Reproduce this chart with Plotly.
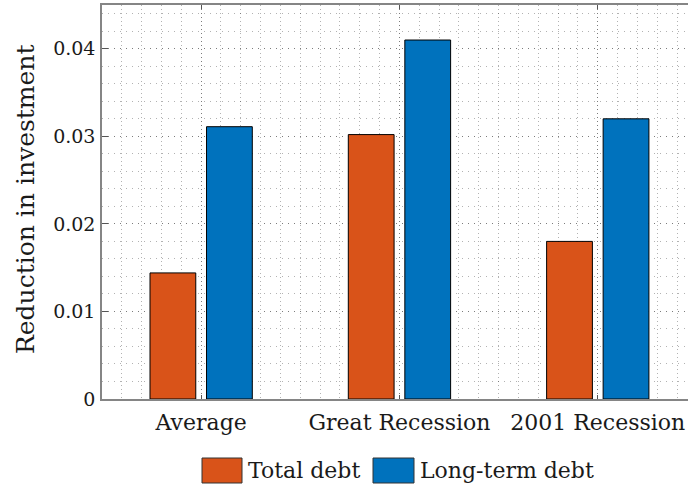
import plotly.graph_objects as go

# ---- data ----
categories = ["Average", "Great Recession", "2001 Recession"]
cat_pos = [1, 2, 3]
total_debt = [0.0144, 0.0302, 0.0180]
long_term_debt = [0.0311, 0.0410, 0.0320]
series_names = ["Total debt", "Long-term debt"]
series_colors = ["#D95319", "#0072BD"]
y_tickvals = [0, 0.01, 0.02, 0.03, 0.04]
y_ticktext = ["0", "0.01", "0.02", "0.03", "0.04"]

W, H = 688, 487
L, R, T, B = 102, 0, 5, 88
FONT = "'DejaVu Serif', serif"
FS = 22
TXT = "#1a1a1a"
GRID = "rgba(0,0,0,0.30)"
AXC = "#858585"

def px2x(px):
    return (px - L) / (W - L - R)

def py2y(py):
    return (H - B - py) / (H - T - B)

fig = go.Figure()
for name, vals, col in zip(series_names, [total_debt, long_term_debt], series_colors):
    fig.add_trace(go.Bar(
        x=cat_pos, y=vals, name=name, showlegend=False,
        marker=dict(color=col, line=dict(color="#000000", width=1)),
    ))

fig.update_layout(
    width=W, height=H,
    margin=dict(l=L, r=R, t=T, b=B),
    paper_bgcolor="white", plot_bgcolor="white",
    barmode="group", bargap=0.43, bargroupgap=0.19,
    font=dict(family=FONT, size=FS, color=TXT),
)

fig.update_xaxes(
    type="linear", range=[0.5, 3.455],
    tickmode="array", tickvals=cat_pos, ticktext=categories,
    showline=True, linecolor=AXC, linewidth=1.5, mirror="ticks",
    ticks="inside", ticklen=4, tickcolor="#555555", tickwidth=1,
    showgrid=True, gridcolor=GRID, griddash="1px,3px", gridwidth=1,
    minor=dict(tick0=0.5, dtick=0.1, showgrid=True, gridcolor=GRID,
               griddash="1px,3px", gridwidth=1, ticks=""),
    zeroline=False, ticklabelstandoff=3,
    tickfont=dict(family=FONT, size=FS, color=TXT),
)
fig.update_yaxes(
    range=[0, 0.045],
    tickmode="array", tickvals=y_tickvals, ticktext=y_ticktext,
    showline=True, linecolor=AXC, linewidth=1.5, mirror=False,
    ticks="inside", ticklen=6, tickcolor="#555555", tickwidth=1,
    showgrid=True, gridcolor=GRID, griddash="1px,5px", gridwidth=1,
    minor=dict(tick0=0, dtick=0.002, showgrid=True, gridcolor=GRID,
               griddash="1px,5px", gridwidth=1, ticks=""),
    zeroline=False, ticklabelstandoff=1,
    tickfont=dict(family=FONT, size=19, color=TXT),
)

# y-axis title
fig.add_annotation(
    text="Reduction in investment", textangle=-90,
    xref="paper", yref="paper", x=px2x(25), y=py2y(200),
    showarrow=False, xanchor="center", yanchor="middle",
    font=dict(family=FONT, size=25, color=TXT),
)

# legend (drawn below the axes)
legend_boxes = [(202, 242), (373, 414)]
for (x0, x1), name, col in zip(legend_boxes, series_names, series_colors):
    fig.add_shape(type="rect", xref="paper", yref="paper",
                  x0=px2x(x0), x1=px2x(x1), y0=py2y(458), y1=py2y(483),
                  fillcolor=col, line=dict(color="#333333", width=1))
    fig.add_annotation(text=name, xref="paper", yref="paper",
                       x=px2x(x1 + 4), y=py2y(470.5), showarrow=False,
                       xanchor="left", yanchor="middle",
                       font=dict(family=FONT, size=FS, color=TXT))

fig.write_html("out.html")
